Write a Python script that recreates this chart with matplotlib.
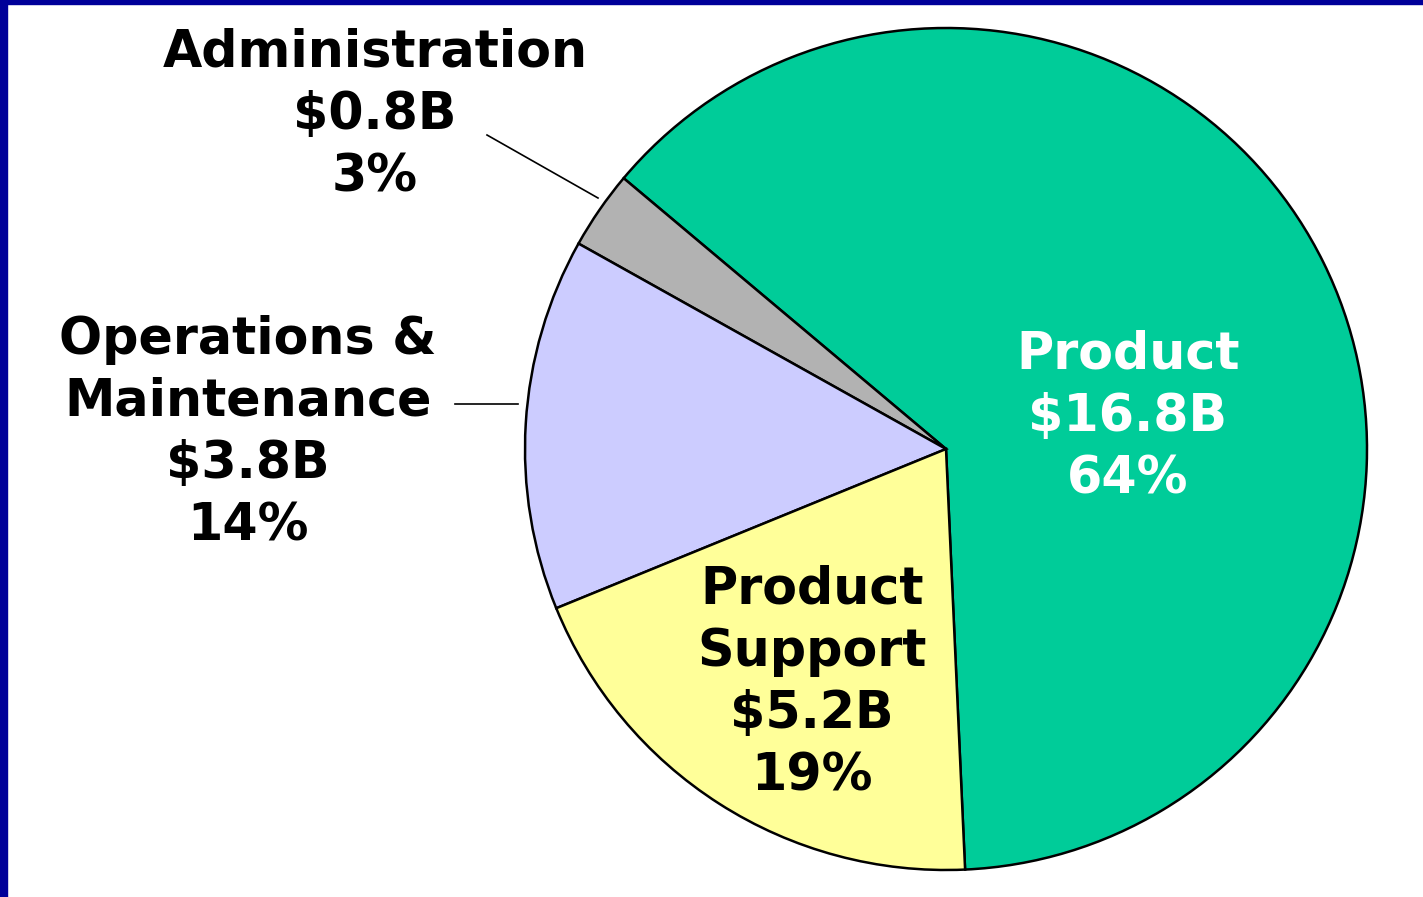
import matplotlib
matplotlib.use("Agg")
import matplotlib.pyplot as plt
from matplotlib.patches import Rectangle

# ---- data ----
categories = ["Product", "Administration", "Operations &\nMaintenance", "Product\nSupport"]
values_b = [16.8, 0.8, 3.8, 5.2]          # $ billions
percents = ["64%", "3%", "14%", "19%"]
colors = ["#00CC99", "#B2B2B2", "#CCCCFF", "#FFFF99"]

W, H = 1423, 897
fig = plt.figure(figsize=(W / 100, H / 100), dpi=100)
fig.patch.set_facecolor("white")
ax = fig.add_axes([0, 0, 1, 1])

cx, cy, r = 946, H - 449, 421
ax.pie(values_b, colors=colors, startangle=-87.4, counterclock=True,
       center=(cx, cy), radius=r,
       wedgeprops=dict(edgecolor="black", linewidth=1.8))
ax.set_xlim(0, W)
ax.set_ylim(0, H)
ax.set_aspect("equal")
ax.axis("off")

font = dict(family="DejaVu Sans", weight="bold", fontsize=36.5)
label_pos = [(1128, 417), (375, 115), (248, 433), (812, 683)]
label_col = ["white", "black", "black", "black"]
for cat, v, p, (lx, ly), c in zip(categories, values_b, percents, label_pos, label_col):
    txt = f"{cat}\n\\${v}B\n{p}"
    ax.text(lx, H - ly, txt, ha="center", va="center", color=c,
            linespacing=1.31, **font)

# leader lines
ax.plot([487, 598], [H - 135, H - 198], color="black", lw=1.2)
ax.plot([455, 518], [H - 404, H - 404], color="black", lw=1.2)

# blue frame (left and top)
fig.patches.append(Rectangle((0, 0), 7 / W, 1, transform=fig.transFigure,
                             color="#000099", zorder=10))
fig.patches.append(Rectangle((0, 1 - 4 / H), 1, 4 / H, transform=fig.transFigure,
                             color="#000099", zorder=10))

fig.savefig("out.png", dpi=100)
